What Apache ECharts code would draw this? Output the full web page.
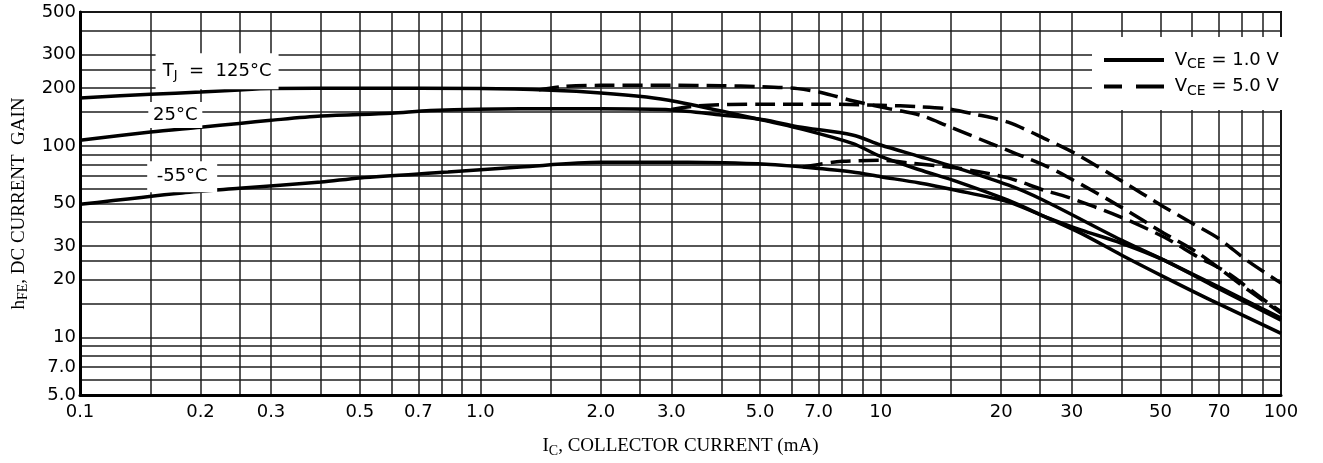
<!DOCTYPE html>
<html>
<head>
<meta charset="utf-8">
<title>DC Current Gain</title>
<script src="https://cdn.jsdelivr.net/npm/echarts@6.0.0/dist/echarts.min.js"></script>
<style>
  html, body { margin: 0; padding: 0; background: #fff; }
  #chart { width: 1323px; height: 463px; }
</style>
</head>
<body>
<div id="chart"></div>
<script>
// grid lines and tick labels (log-log paper)
const xGridValues = [0.1, 0.15, 0.2, 0.25, 0.3, 0.4, 0.5, 0.6, 0.7, 0.8, 0.9,
  1, 1.5, 2, 2.5, 3, 4, 5, 6, 7, 8, 9,
  10, 15, 20, 25, 30, 40, 50, 60, 70, 80, 90, 100];
const yGridValues = [5, 6, 7, 8, 9, 10, 15, 20, 25, 30, 40, 50, 60, 70, 80, 90,
  100, 150, 200, 250, 300, 400, 500];
const xTickLabels = ['0.1', '0.2', '0.3', '0.5', '0.7', '1.0', '2.0', '3.0', '5.0', '7.0',
  '10', '20', '30', '50', '70', '100'];
const yTickLabels = ['5.0', '7.0', '10', '20', '30', '50', '100', '200', '300', '500'];

// VCE = 1.0 V (solid)
const ic125v1 = [0.1, 0.15, 0.2, 0.25, 0.3, 0.5, 1.0, 1.5, 2.0, 2.6, 3.1, 4.0, 5.1, 6.2, 8.5, 10, 12.5, 15.2, 20.8, 25.5, 31.6, 39.8, 51, 67, 100];
const hfe125v1 = [178, 186, 191, 196, 199, 200, 199, 195, 189, 180, 170, 152, 136, 124, 103, 88, 75, 66, 52, 43, 35, 27, 20.7, 15.6, 10.5];
const ic25v1 = [0.1, 0.15, 0.2, 0.25, 0.3, 0.4, 0.6, 0.75, 1.26, 2, 3, 4, 5.1, 6.2, 8.5, 10, 12.5, 14.7, 20.8, 25.5, 39.8, 51, 70, 100];
const hfe25v1 = [107, 118, 125, 131, 136, 143, 148, 153, 156, 156, 154, 145, 137, 126, 114, 101, 88, 79.5, 62.5, 52, 32.3, 25.3, 18.3, 12.6];
const icM55v1 = [0.1, 0.18, 0.25, 0.4, 0.5, 0.83, 1.26, 2.0, 3.3, 5.3, 6.4, 8.5, 10, 12.5, 15.2, 20.8, 25.5, 31.6, 39.8, 51, 67, 100];
const hfeM55v1 = [49.5, 56.8, 60, 64.7, 68, 73, 77.5, 82, 82, 80, 77.5, 73, 69, 64, 59, 51, 43, 36.4, 31.1, 25.3, 18.8, 12.3];

// VCE = 5.0 V (dashed)
const ic125v5 = [1.4, 1.6, 2, 3, 4, 5, 6.2, 7.1, 8.5, 10.4, 12.5, 14.7, 18.8, 25.5, 29.3, 39.8, 51, 62, 82.7, 100];
const hfe125v5 = [196, 204, 207, 207, 206, 204, 199, 190, 172, 157, 145, 127, 103, 79.5, 68.8, 48, 35, 27.6, 17.7, 13.4];
const ic25v5 = [3, 3.5, 5, 7, 10, 12.5, 14.7, 17, 20.8, 26.2, 30.4, 39.8, 51, 60.6, 69.6, 82.7, 100];
const hfe25v5 = [155, 162, 165, 165, 163, 160, 156, 147, 133, 107, 92, 66, 48, 39, 33, 25, 19.2];
const icM55v5 = [6.4, 7, 8, 10, 12, 15.5, 20.8, 25.5, 29.3, 39.8, 51, 62, 73.6, 88.8, 100];
const hfeM55v5 = [77.5, 80, 83, 84, 81, 76.6, 68, 58.8, 54, 42.5, 33.4, 26.3, 21.7, 16.2, 13.6];

const TICK_FONT = 'DejaVu Sans';
const TITLE_FONT = 'Liberation Serif';

const zip = (xs, ys) => xs.map((x, i) => [x, ys[i]]);
const labelFor = (labels) => (v) => {
  const hit = labels.find(l => Math.abs(Math.log10(parseFloat(l)) - v) < 1e-9);
  return hit || '';
};

const gridLine = { show: true, lineStyle: { color: '#1e1e1e', width: 1.5 } };

const curve = (name, xs, ys, dashed) => ({
  name: name,
  type: 'line',
  xAxisIndex: 0,
  yAxisIndex: 0,
  data: zip(xs, ys),
  showSymbol: false,
  symbol: 'none',
  smooth: 0.3,
  z: 3,
  lineStyle: { color: '#000', width: 3.5, type: dashed ? [20, 8] : 'solid' },
  itemStyle: { color: '#000' }
});

const tempRich = {
  t: { fontFamily: TICK_FONT, fontSize: 18, color: '#000' },
  j: { fontFamily: TICK_FONT, fontSize: 13, color: '#000', padding: [9, 0, 0, 0] }
};

const chart = echarts.init(document.getElementById('chart'));

const option = {
  animation: false,
  backgroundColor: '#fff',
  grid: { left: 80, right: 42, top: 12, bottom: 68, show: true, borderColor: '#000', borderWidth: 2 },
  legend: {
    orient: 'vertical',
    left: 1092,
    top: 37,
    padding: [14, 4, 12, 10],
    itemGap: 6,
    itemWidth: 60,
    itemHeight: 14,
    backgroundColor: '#fff',
    itemStyle: { opacity: 0, borderWidth: 0 },
    lineStyle: { width: 4 },
    data: [
      { name: 'v1' },
      { name: 'v5', lineStyle: { type: [18, 14, 28, 0] } }
    ],
    formatter: (name) => name === 'v1' ? '{v| V}{s|CE}{v| = 1.0 V}' : '{v| V}{s|CE}{v| = 5.0 V}',
    textStyle: {
      rich: {
        v: { fontFamily: TICK_FONT, fontSize: 18, color: '#000' },
        s: { fontFamily: TICK_FONT, fontSize: 14, color: '#000', padding: [9, 0, 0, 0] }
      }
    }
  },
  xAxis: [
    { type: 'log', logBase: 10, min: 0.1, max: 100, show: false },
    {
      type: 'value',
      min: -1,
      max: 2,
      position: 'bottom',
      name: '{n|I}{s|C}{n|, COLLECTOR CURRENT (mA)}',
      nameLocation: 'middle',
      nameGap: 40,
      nameTextStyle: {
        rich: {
          n: { fontFamily: TITLE_FONT, fontSize: 19, color: '#000' },
          s: { fontFamily: TITLE_FONT, fontSize: 14, color: '#000', padding: [9, 0, 0, 0] }
        }
      },
      axisLine: { onZero: false, lineStyle: { color: '#000', width: 3 } },
      axisTick: { show: false, customValues: xGridValues.map(v => Math.log10(v)) },
      axisLabel: {
        customValues: xTickLabels.map(l => Math.log10(parseFloat(l))),
        formatter: labelFor(xTickLabels),
        fontFamily: TICK_FONT,
        fontSize: 18,
        color: '#000',
        margin: 8
      },
      splitLine: gridLine
    }
  ],
  yAxis: [
    { type: 'log', logBase: 10, min: 5, max: 500, show: false },
    {
      type: 'value',
      min: Math.log10(5),
      max: Math.log10(500),
      position: 'left',
      name: '{n|h}{s|FE}{n|, DC CURRENT  GAIN}',
      nameLocation: 'middle',
      nameGap: 48,
      nameRotate: 90,
      nameTextStyle: {
        rich: {
          n: { fontFamily: TITLE_FONT, fontSize: 19, color: '#000' },
          s: { fontFamily: TITLE_FONT, fontSize: 14, color: '#000', padding: [9, 0, 0, 0] }
        }
      },
      axisLine: { onZero: false, lineStyle: { color: '#000', width: 3 } },
      axisTick: { show: false, customValues: yGridValues.map(v => Math.log10(v)) },
      axisLabel: {
        customValues: yTickLabels.map(l => Math.log10(parseFloat(l))),
        formatter: labelFor(yTickLabels),
        fontFamily: TICK_FONT,
        fontSize: 18,
        color: '#000',
        margin: 4
      },
      splitLine: gridLine
    }
  ],
  series: [
    curve('v1', ic125v1, hfe125v1, false),
    curve('v1', ic25v1, hfe25v1, false),
    curve('v1', icM55v1, hfeM55v1, false),
    curve('v5', ic125v5, hfe125v5, true),
    curve('v5', ic25v5, hfe25v5, true),
    curve('v5', icM55v5, hfeM55v5, true),
    {
      // white boxes with the junction temperature labels
      name: 'labels',
      type: 'line',
      xAxisIndex: 0,
      yAxisIndex: 0,
      data: [],
      z: 1,
      markPoint: {
        silent: true,
        symbol: 'rect',
        itemStyle: { color: '#fff' },
        label: { show: true, position: 'inside', color: '#000', rich: tempRich },
        data: [
          { coord: [0.22, 245], symbolSize: [123, 36], label: { formatter: '{t|T}{j|J}{t|  =  125°C}' } },
          { coord: [0.173, 145], symbolSize: [54, 26], label: { formatter: '{t|25°C}' } },
          { coord: [0.18, 69], symbolSize: [70, 31], label: { formatter: '{t|-55°C}' } }
        ]
      }
    }
  ]
};

chart.setOption(option);
</script>
</body>
</html>
